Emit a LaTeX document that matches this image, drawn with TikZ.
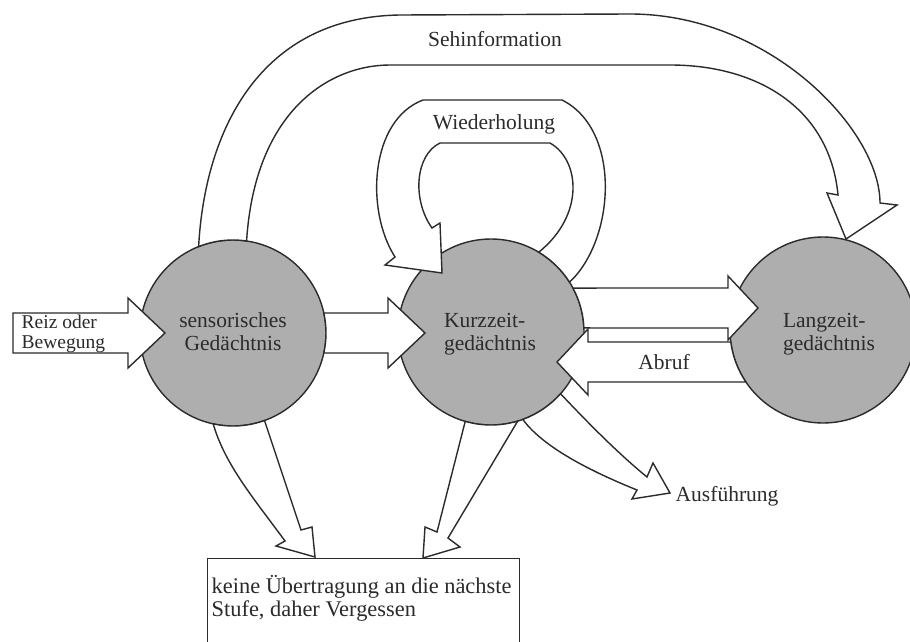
\documentclass[tikz,border=0pt]{standalone}
\usepackage{fontspec}
\setmainfont{Liberation Serif}
\usetikzlibrary{calc}
\definecolor{ink}{HTML}{2B2B2B}
\definecolor{disc}{HTML}{AEAEAE}
\begin{document}
\begin{tikzpicture}[x=1pt,y=-1pt,line width=1.4pt,
  mem/.style={circle, minimum size=186pt, inner sep=0pt, fill=disc, draw=ink},
  fat/.style={fill=white, draw=ink, line join=miter},
  lbl/.style={text=ink, font=\fontsize{21.5}{23}\selectfont, inner sep=0pt},
  boxlbl/.style={text=ink, font=\fontsize{22.4}{23}\selectfont, inner sep=0pt},
  small/.style={text=ink, font=\fontsize{19.5}{20}\selectfont, inner sep=0pt}]
\useasboundingbox (0,0) rectangle (910,642);
\clip (0,0) rectangle (910,642);
\fill[white] (0,0) rectangle (910,642);

% box
\node[draw=ink, fill=white, minimum width=312pt, minimum height=110pt, anchor=north west, inner sep=0pt] (box) at (207,558) {};

% memory stores
\node[mem] (S) at (233,333) {};
\node[mem] (K) at (491,332) {};
\node[mem] (L) at (823,330) {};

% input arrow
\filldraw[fat] (13,313) -- (128,313) -- (128,298) -- (165,333) -- (128,368) -- (128,353) -- (13,353) -- cycle;

% sensory -> short term
\filldraw[fat] ($(S)+(-12.4:93)$) -- (388,313) -- (388,298) -- (425,333) -- (388,368) -- (388,353) -- ($(S)+(12.4:93)$) arc[start angle=12.4, end angle=-12.4, radius=93] -- cycle;

% short term -> long term
\filldraw[fat] ($(K)+(-28.2:93)$) -- (728,288) -- (728,276) -- (758,308) -- (728,340) -- (728,328) -- ($(K)+(-2.5:93)$) arc[start angle=-2.5, end angle=-28.2, radius=93] -- cycle;

% Abruf
\filldraw[fat] ($(L)+(172.6:93)$) -- (588,342) -- (588,329) -- (557,362) -- (588,395) -- (588,382) -- ($(L)+(146:93)$) arc[start angle=146, end angle=172.6, radius=93] -- cycle;

% Sehinformation
\filldraw[fat] ($(S)+(-111.7:93)$) .. controls (205,130) and (260,17) .. (400,15) -- (630,14) .. controls (770,14) and (880,130) .. (880,203) -- (897,205) -- (846,239) -- (827,193) -- (838,195) .. controls (830,110) and (760,65) .. (670,65) -- (390,65) .. controls (330,65) and (255,110) .. ($(S)+(-81.6:93)$) arc[start angle=-81.6, end angle=-111.7, radius=93] -- cycle;

% Wiederholung
\filldraw[fat] ($(K)+(-32.4:93)$) .. controls (615,240) and (622,130) .. (562,100) -- (423,100) .. controls (370,120) and (365,210) .. (395,257) -- (385,265) -- (442,273) -- (440,223) -- (432,228) .. controls (412,200) and (415,155) .. (440,143) -- (550,143) .. controls (580,160) and (585,215) .. ($(K)+(-59.1:93)$) arc[start angle=-59.1, end angle=-32.4, radius=93] -- cycle;

% sensory -> box
\filldraw[fat] ($(S)+(70.2:93)$) -- (301,530) -- (312,527) -- (315,557) -- (276,546) -- (285,541) .. controls (255,500) and (225,465) .. ($(S)+(102.3:93)$) arc[start angle=102.3, end angle=70.2, radius=93] -- cycle;

% short term -> box
\filldraw[fat] ($(K)+(73.3:93)$) -- (448,538) -- (460,547) -- (423,558) -- (425,527) -- (437,532) -- ($(K)+(106.1:93)$) arc[start angle=106.1, end angle=73.3, radius=93] -- cycle;

% Ausfuehrung
\filldraw[fat] ($(K)+(41.6:93)$) .. controls (590,425) and (620,455) .. (647,477) -- (653,463) -- (670,493) -- (632,499) -- (637,490) .. controls (600,475) and (545,450) .. ($(K)+(70:93)$) arc[start angle=70, end angle=41.6, radius=93] -- cycle;

% labels
\node[small, anchor=west, align=left] (reiz) at (21,334) {Reiz oder\\Bewegung};
\node[lbl, align=center] (st) at (233,332) {sensorisches\\Gedächtnis};
\node[lbl, align=left] (kt) at (490,334) {Kurzzeit-\\gedächtnis};
\node[lbl, align=left] (lt) at (829,334) {Langzeit-\\gedächtnis};
\node[lbl, anchor=base] (seh) at (495,47) {Sehinformation};
\node[lbl, anchor=base] (wdh) at (494,129) {Wiederholung};
\node[lbl, anchor=base] (abr) at (664,369) {Abruf};
\node[lbl, anchor=base west] (ausf) at (675,501) {Ausführung};
\node[boxlbl, anchor=north west, align=left] (boxtext) at (211,575) {keine Übertragung an die nächste\\Stufe, daher Vergessen};
\end{tikzpicture}
\end{document}
